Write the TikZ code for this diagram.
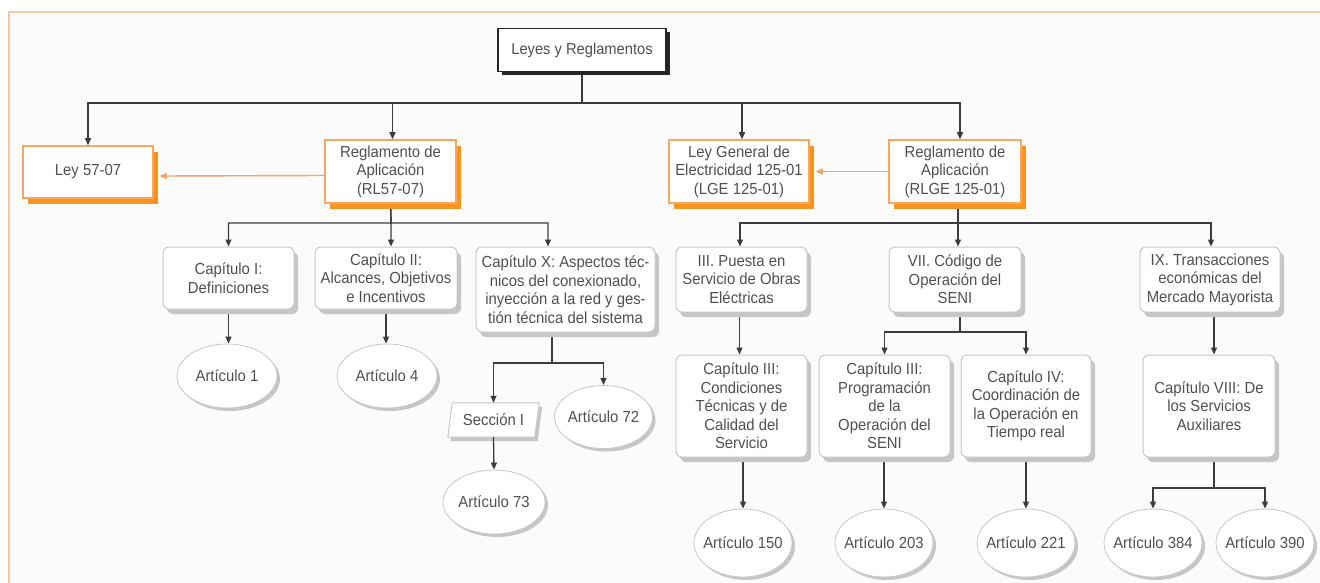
\documentclass[tikz,border=0pt]{standalone}
\usepackage{fontspec}
\setmainfont{Liberation Sans}[FakeStretch=0.93]
\usetikzlibrary{shapes.geometric,arrows.meta,shadows}
\definecolor{textc}{HTML}{505050}
\definecolor{linec}{HTML}{3C3C3C}
\definecolor{orline}{HTML}{F9A65E}
\definecolor{orshadow}{HTML}{F7931E}
\definecolor{orarrow}{HTML}{F5A468}
\definecolor{gline}{HTML}{C8C8C8}
\definecolor{gshadow}{HTML}{C6C6C6}
\definecolor{bgc}{HTML}{FBFBFB}
\definecolor{framec}{HTML}{F0C8AC}
\newcommand\artlbl[1]{\makebox[0pt]{Artículo #1}}
\pgfdeclarelayer{bglayer}
\pgfdeclarelayer{edges}
\pgfsetlayers{bglayer,edges,main}
\tikzset{
  txt/.style={font=\fontsize{16}{18.5}\selectfont, text=textc, align=center, inner sep=0pt},
  blackbox/.style={txt, rectangle, draw=black!85, line width=1.5pt, fill=white,
    drop shadow={shadow xshift=4pt, shadow yshift=-3.5pt, fill=black!85, opacity=1}},
  obox/.style={txt, rectangle, draw=orline, line width=1.5pt, fill=white,
    drop shadow={shadow xshift=5pt, shadow yshift=-6pt, fill=orshadow, opacity=1}},
  gbox/.style={txt, rectangle, draw=gline, line width=1pt, rounded corners=6pt, fill=white,
    drop shadow={shadow xshift=4pt, shadow yshift=-5pt, fill=gshadow, opacity=1}},
  ell/.style={txt, ellipse, draw=gline, line width=0.8pt, fill=white,
    drop shadow={shadow xshift=3pt, shadow yshift=-3pt, fill=gshadow, opacity=1}},
  arr/.style={draw=linec, line width=1.3pt, -{Triangle[length=7pt,width=6pt]}},
  oarr/.style={draw=orarrow, line width=1.4pt, -{Triangle[length=7pt,width=6pt]}},
}
\begin{document}
\begin{tikzpicture}[x=1pt,y=-1pt]
\useasboundingbox (0,0) rectangle (1320,583);
\begin{pgfonlayer}{bglayer}
\fill[white] (0,0) rectangle (1320,583);
\fill[bgc] (9,12) rectangle (1320,583);
\draw[framec, line width=1.2pt] (9,583) -- (9,12) -- (1320,12);
\end{pgfonlayer}

% level 0
\node[blackbox, minimum width=168pt, minimum height=43pt, font=\fontsize{15.8}{18}\selectfont] (leyes) at (582,50) {Leyes y Reglamentos};

% level 1
\node[obox, minimum width=130pt, minimum height=52pt] (ley57) at (88,172) {Ley 57-07};
\node[obox, minimum width=131pt, minimum height=63pt] (rl57) at (390.5,171.5) {Reglamento de\\Aplicación\\(RL57-07)};
\node[obox, minimum width=140pt, minimum height=63pt] (lge) at (739,171.5) {Ley General de\\Electricidad 125-01\\(LGE 125-01)};
\node[obox, minimum width=132pt, minimum height=63pt] (rlge) at (955,171.5) {Reglamento de\\Aplicación\\(RLGE 125-01)};

% level 2 left
\node[gbox, minimum width=131pt, minimum height=62pt] (cap1) at (228.5,278) {Capítulo I:\\Definiciones};
\node[gbox, minimum width=142pt, minimum height=62pt] (cap2) at (386,278) {Capítulo II:\\Alcances, Objetivos\\e Incentivos};
\node[gbox, minimum width=179pt, minimum height=85pt] (capX) at (565.5,289.5) {Capítulo X: Aspectos téc-\\nicos del conexionado,\\inyección a la red y ges-\\tión técnica del sistema};

% level 2 right
\node[gbox, minimum width=131pt, minimum height=65pt] (puesta) at (741.5,279.5) {III. Puesta en\\Servicio de Obras\\Eléctricas};
\node[gbox, minimum width=132pt, minimum height=65pt] (vii) at (955,279.5) {VII. Código de\\Operación del\\SENI};
\node[gbox, minimum width=140pt, minimum height=65pt] (ix) at (1210,279.5) {IX. Transacciones\\económicas del\\Mercado Mayorista};

% level 3 left
\node[ell, minimum width=100pt, minimum height=64pt] (art1) at (227,376) {\artlbl{1}};
\node[ell, minimum width=100pt, minimum height=64pt] (art4) at (387,376) {\artlbl{4}};
\node[txt, minimum width=91pt, minimum height=34pt] (secI) at (493.5,420) {Sección I};
\node[ell, minimum width=98pt, minimum height=63pt] (art72) at (603.5,417) {\artlbl{72}};
\node[ell, minimum width=102pt, minimum height=64pt] (art73) at (494,502) {\artlbl{73}};

% Sección I parallelogram
\begin{pgfonlayer}{edges}
\fill[gshadow] ([xshift=7.5pt,yshift=-4pt]secI.north west) -- ([xshift=3pt,yshift=-4pt]secI.north east)
  -- ([xshift=-1.5pt,yshift=-4pt]secI.south east) -- ([xshift=3pt,yshift=-4pt]secI.south west) -- cycle;
\filldraw[fill=white, draw=gline, line width=1pt] ([xshift=4.5pt]secI.north west) -- (secI.north east)
  -- ([xshift=-4.5pt]secI.south east) -- (secI.south west) -- cycle;
\end{pgfonlayer}

% level 3 right
\node[gbox, minimum width=131pt, minimum height=102pt] (c3a) at (741.5,406) {Capítulo III:\\Condiciones\\Técnicas y de\\Calidad del\\Servicio};
\node[gbox, minimum width=131pt, minimum height=102pt] (c3b) at (884.5,406) {Capítulo III:\\Programación\\de la\\Operación del\\SENI};
\node[gbox, minimum width=130pt, minimum height=102pt] (c4) at (1026,406) {Capítulo IV:\\Coordinación de\\la Operación en\\Tiempo real};
\node[gbox, minimum width=132pt, minimum height=102pt] (c8) at (1209,406) {Capítulo VIII: De\\los Servicios\\Auxiliares};

% level 4
\node[ell, minimum width=98pt, minimum height=68pt] (a150) at (743,543) {\artlbl{150}};
\node[ell, minimum width=98pt, minimum height=68pt] (a203) at (884,543) {\artlbl{203}};
\node[ell, minimum width=98pt, minimum height=68pt] (a221) at (1026,543) {\artlbl{221}};
\node[ell, minimum width=98pt, minimum height=68pt] (a384) at (1153,543) {\artlbl{384}};
\node[ell, minimum width=98pt, minimum height=68pt] (a390) at (1265,543) {\artlbl{390}};

\begin{pgfonlayer}{edges}
% level 0 -> 1
\coordinate (b1) at (582,103);
\draw[arr] (leyes.south) -- (b1) -| (ley57.north);
\draw[arr] (leyes.south) -- (b1) -| ([xshift=2pt]rl57.north);
\draw[arr] (leyes.south) -- (b1) -| ([xshift=3pt]lge.north);
\draw[arr] (leyes.south) -- (b1) -| ([xshift=5pt]rlge.north);
% orange
\draw[oarr] ([yshift=-4pt]rl57.west) -- ([xshift=6pt,yshift=-4pt]ley57.east);
\draw[oarr] (rlge.west) -- ([xshift=6pt]lge.east);
% rl57 -> chapters
\coordinate (b2) at (391,223);
\draw[arr] (rl57.south) -- (b2) -| (cap1.north);
\draw[arr] (rl57.south) -- (b2) -| ([xshift=5pt]cap2.north);
\draw[arr] (rl57.south) -- (b2) -| ([xshift=-17.5pt]capX.north);
% rlge -> titles
\coordinate (b3) at (958,223);
\draw[arr] ([xshift=3pt]rlge.south) -- (b3) -| ([xshift=-1.5pt]puesta.north);
\draw[arr] ([xshift=3pt]rlge.south) -- (b3) -| ([xshift=3pt]vii.north);
\draw[arr] ([xshift=3pt]rlge.south) -- (b3) -| ([xshift=1pt]ix.north);
% chapter -> articles left
\draw[arr] (cap1.south) -- (cap1.south |- art1.north);
\draw[arr] (cap2.south) -- (cap2.south |- art4.north);
\coordinate (b4) at (552,363);
\draw[arr] ([xshift=-13.5pt]capX.south) -- (b4) -| (secI.north);
\draw[arr] ([xshift=-13.5pt]capX.south) -- (b4) -| (art72.north);
\draw[arr] (secI.south) -- (art73.north);
% right
\draw[arr] ([xshift=-2pt]puesta.south) -- ([xshift=-2pt]puesta.south |- c3a.north);
\coordinate (b5) at (960,332);
\draw[arr] ([xshift=5pt]vii.south) -- (b5) -| (c3b.north);
\draw[arr] ([xshift=5pt]vii.south) -- (b5) -| (c4.north);
\draw[arr] ([xshift=4pt]ix.south) -- ([xshift=4pt]ix.south |- c8.north);
\draw[arr] (c3a.south -| a150.north) -- (a150.north);
\draw[arr] (c3b.south -| a203.north) -- (a203.north);
\draw[arr] (c4.south) -- (a221.north);
\coordinate (b6) at (1214,488);
\draw[arr] ([xshift=5pt]c8.south) -- (b6) -| (a384.north);
\draw[arr] ([xshift=5pt]c8.south) -- (b6) -| (a390.north);
\end{pgfonlayer}
\end{tikzpicture}
\end{document}
